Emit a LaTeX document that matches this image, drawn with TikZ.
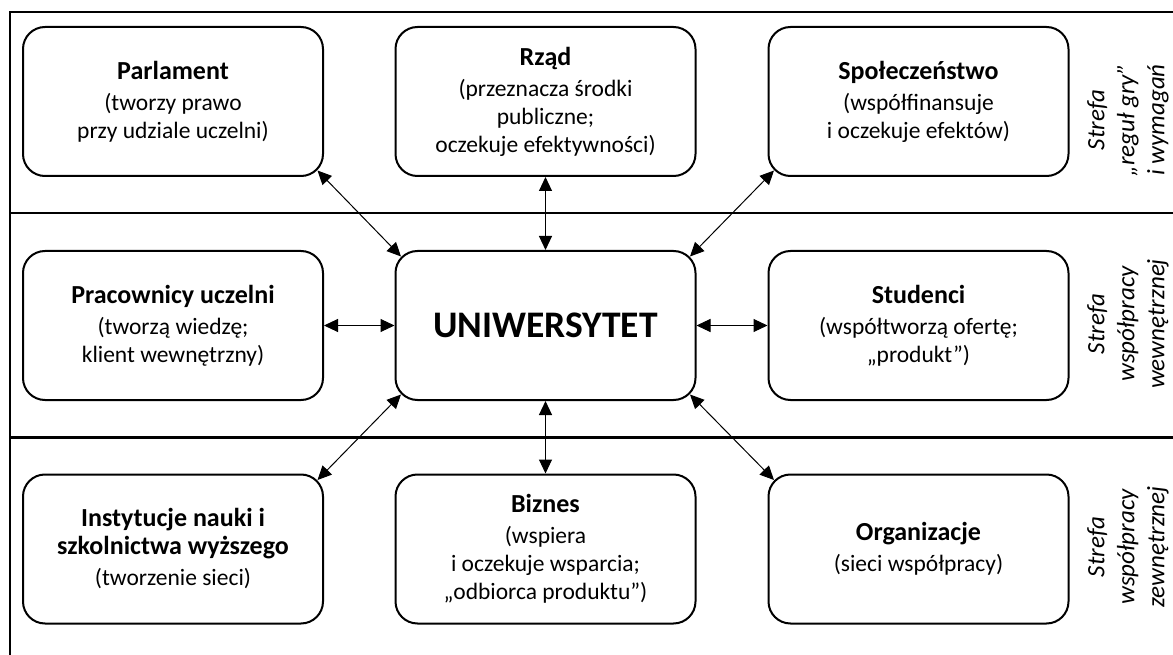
\documentclass[tikz,border=0pt]{standalone}
\usepackage{fontspec}
\setmainfont{Carlito}
\usetikzlibrary{arrows.meta,calc}
\newcommand\ttl[1]{{\fontsize{26}{28}\selectfont\bfseries #1}}
\begin{document}
\begin{tikzpicture}[x=1pt,y=-1pt,
  box/.style={draw,line width=2pt,rounded corners=22pt,minimum width=300pt,minimum height=149pt,align=center,inner sep=0pt,font=\fontsize{23.5}{28}\selectfont},
  link/.style={line width=1pt,{Triangle[length=14pt,width=13pt]}-{Triangle[length=14pt,width=13pt]}},
  zone/.style={rotate=90,align=center,font=\fontsize{25}{30}\selectfont\itshape},
  frameline/.style={line width=2.8pt},
  sepline/.style={line width=2.5pt}]
\useasboundingbox (0,0) rectangle (1173,655);

% frame and zone separators
\draw[frameline] (1173,12) -- (10,12) -- (10,656);
\draw[sepline] (10,213) -- (1173,213);
\draw[sepline] (10,437.5) -- (1173,437.5);

% boxes
\node[box] (parl) at (173,101.5) {\ttl{Parlament}\\[3pt](tworzy prawo\\przy udziale uczelni)};
\node[box] (rzad) at (545.5,101.5) {\ttl{Rząd}\\[3pt](przeznacza środki\\publiczne;\\oczekuje efektywności)};
\node[box] (spol) at (918.5,101.5) {\ttl{Społeczeństwo}\\[3pt](współfinansuje\\i oczekuje efektów)};

\node[box] (prac) at (173,325.5) {\ttl{Pracownicy uczelni}\\[3pt](tworzą wiedzę;\\klient wewnętrzny)};
\node[box] (uni) at (545.5,325.5) {\fontsize{37.5}{40}\selectfont\bfseries UNIWERSYTET};
\node[box] (stud) at (918.5,325.5) {\ttl{Studenci}\\[3pt](współtworzą ofertę;\\„produkt”)};

\node[box] (inst) at (173,549) {\ttl{Instytucje nauki i}\\\ttl{szkolnictwa wyższego}\\[3pt](tworzenie sieci)};
\node[box] (biz) at (545.5,549) {\ttl{Biznes}\\[3pt](wspiera\\i oczekuje wsparcia;\\„odbiorca produktu”)};
\node[box] (org) at (918.5,549) {\ttl{Organizacje}\\[3pt](sieci współpracy)};

% connectors
\draw[link] (rzad.south) -- (uni.north);
\draw[link] (biz.north) -- (uni.south);
\draw[link] (prac.east) -- (uni.west);
\draw[link] (stud.west) -- (uni.east);
\draw[link] ($(parl.south east)+(-6.5,-6.5)$) -- ($(uni.north west)+(6.5,6.5)$);
\draw[link] ($(spol.south west)+(6.5,-6.5)$) -- ($(uni.north east)+(-6.5,6.5)$);
\draw[link] ($(inst.north east)+(-6.5,6.5)$) -- ($(uni.south west)+(6.5,-6.5)$);
\draw[link] ($(org.north west)+(6.5,6.5)$) -- ($(uni.south east)+(-6.5,-6.5)$);

% zone labels
\node[zone] (z1) at (1128,120) {Strefa\\„reguł gry”\\i wymagań};
\node[zone] (z2) at (1128,324) {Strefa\\współpracy\\wewnętrznej};
\node[zone] (z3) at (1128,547) {Strefa\\współpracy\\zewnętrznej};
\end{tikzpicture}
\end{document}
